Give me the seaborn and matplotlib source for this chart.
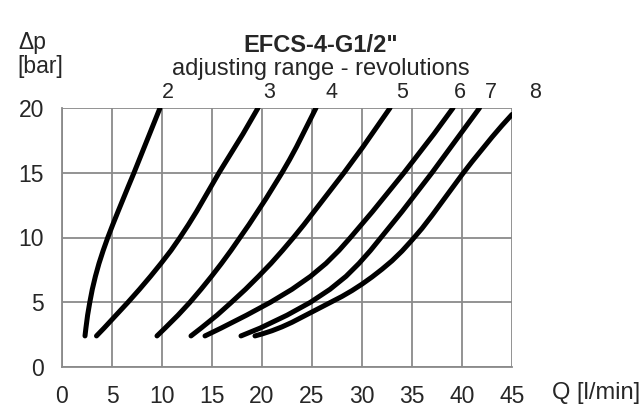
import pandas as pd
import matplotlib.pyplot as plt
import seaborn as sns

# revolutions of the adjusting screw
revolutions = ['2', '3', '4', '5', '6', '7', '8']

# flow Q [l/min] and pressure drop dp [bar], one pair of lists per curve
dp_a = [2.4, 3, 4, 5, 6, 7, 8, 9, 10, 11, 12, 13, 14, 15, 16, 17, 18, 19, 20]

q_2 = [2.3, 2.39, 2.56, 2.78, 3.03, 3.34, 3.7, 4.12, 4.58, 5.08, 5.6, 6.13, 6.66, 7.2, 7.72, 8.24, 8.76, 9.28, 9.8]
q_3 = [3.45, 4.2, 5.4, 6.6, 7.75, 8.85, 9.9, 10.9, 11.8, 12.65, 13.45, 14.2, 14.95, 15.7, 16.5, 17.3, 18.1, 18.85, 19.6]
q_4 = [9.5, 10.3, 11.6, 12.8, 13.9, 14.95, 15.95, 16.9, 17.8, 18.7, 19.55, 20.4, 21.2, 22.0, 22.75, 23.45, 24.1, 24.75, 25.4]
q_5 = [12.9, 13.9, 15.5, 16.95, 18.35, 19.65, 20.9, 22.05, 23.15, 24.2, 25.2, 26.2, 27.2, 28.2, 29.15, 30.1, 31.0, 31.9, 32.8]
q_6 = [14.3, 15.9, 18.45, 20.85, 23.0, 24.85, 26.4, 27.7, 28.85, 29.95, 31.05, 32.1, 33.15, 34.2, 35.2, 36.2, 37.2, 38.15, 39.1]
q_7 = [17.9, 19.8, 22.5, 24.85, 26.8, 28.4, 29.7, 30.85, 31.9, 32.95, 34.0, 35.0, 36.0, 37.0, 37.95, 38.9, 39.85, 40.8, 41.75]

# the flattest curve is easier to read against Q
q_8 = [19.3, 20, 21, 22, 23, 24, 25, 26, 27, 28, 29, 30, 31, 32, 33, 34, 35, 36, 37, 38, 39, 40, 41, 42, 43, 44, 45]
dp_8 = [2.4, 2.55, 2.8, 3.1, 3.45, 3.85, 4.25, 4.65, 5.05, 5.45, 5.9, 6.4, 6.95, 7.55, 8.2, 8.95,
        9.8, 10.7, 11.7, 12.75, 13.8, 14.85, 15.85, 16.8, 17.75, 18.65, 19.5]

x_ticks = [0, 5, 10, 15, 20, 25, 30, 35, 40, 45]
y_ticks = [0, 5, 10, 15, 20]

curves = [(q_2, dp_a), (q_3, dp_a), (q_4, dp_a), (q_5, dp_a),
          (q_6, dp_a), (q_7, dp_a), (q_8, dp_8)]
df = pd.concat([pd.DataFrame({'Q': q, 'dp': dp, 'rev': r})
                for r, (q, dp) in zip(revolutions, curves)], ignore_index=True)

sns.set_style('white')
plt.rcParams['font.family'] = ['Liberation Sans', 'DejaVu Sans']
plt.rcParams['font.size'] = 16

grid_col = '#8a8a8a'

fig = plt.figure(figsize=(6.41, 4.08), dpi=100)
ax = fig.add_axes([62 / 641, 41 / 408, 450 / 641, 259 / 408])

sns.lineplot(data=df, x='Q', y='dp', hue='rev', palette=['black'] * len(revolutions),
             estimator=None, sort=False, linewidth=3.6, legend=False, ax=ax,
             solid_capstyle='round', solid_joinstyle='round')

ax.set_xlim(0, 45)
ax.set_ylim(0, 20)
ax.set_xticks(x_ticks)
ax.set_yticks(y_ticks)
ax.grid(True, color=grid_col, linewidth=1.3)
ax.set_axisbelow(True)
for side in ['top', 'right']:
    ax.spines[side].set_visible(False)
for side in ['left', 'bottom']:
    ax.spines[side].set_color(grid_col)
    ax.spines[side].set_linewidth(1.3)
ax.tick_params(axis='x', direction='out', length=5, width=1.3, color=grid_col, pad=8, labelsize=16.5)
ax.tick_params(axis='y', direction='out', length=5, width=1.3, color=grid_col, pad=8, labelsize=16.5)
ax.set_xlabel('')
ax.set_ylabel('')

# revolution numbers above the curve ends
label_x = [10.55, 20.7, 26.9, 34.0, 39.8, 42.9, 47.3]
for r, lx in zip(revolutions, label_x):
    ax.text(lx, 21.2, r, ha='center', va='center', fontsize=15.5, clip_on=False)

fig.text(0.5, 1 - 45 / 408, 'EFCS-4-G1/2"', ha='center', va='center',
         fontsize=17, fontweight='bold')
fig.text(0.5, 1 - 69 / 408, 'adjusting range - revolutions', ha='center', va='center',
         fontsize=17)
fig.text(18 / 641, 1 - 43 / 408, '\u0394p', ha='left', va='center', fontsize=16.5)
fig.text(17 / 641, 1 - 67 / 408, '[bar]', ha='left', va='center', fontsize=16.5)
fig.text(552 / 641, 1 - 393 / 408, 'Q [l/min]', ha='left', va='center', fontsize=17)

fig.savefig('out.png', dpi=100)
